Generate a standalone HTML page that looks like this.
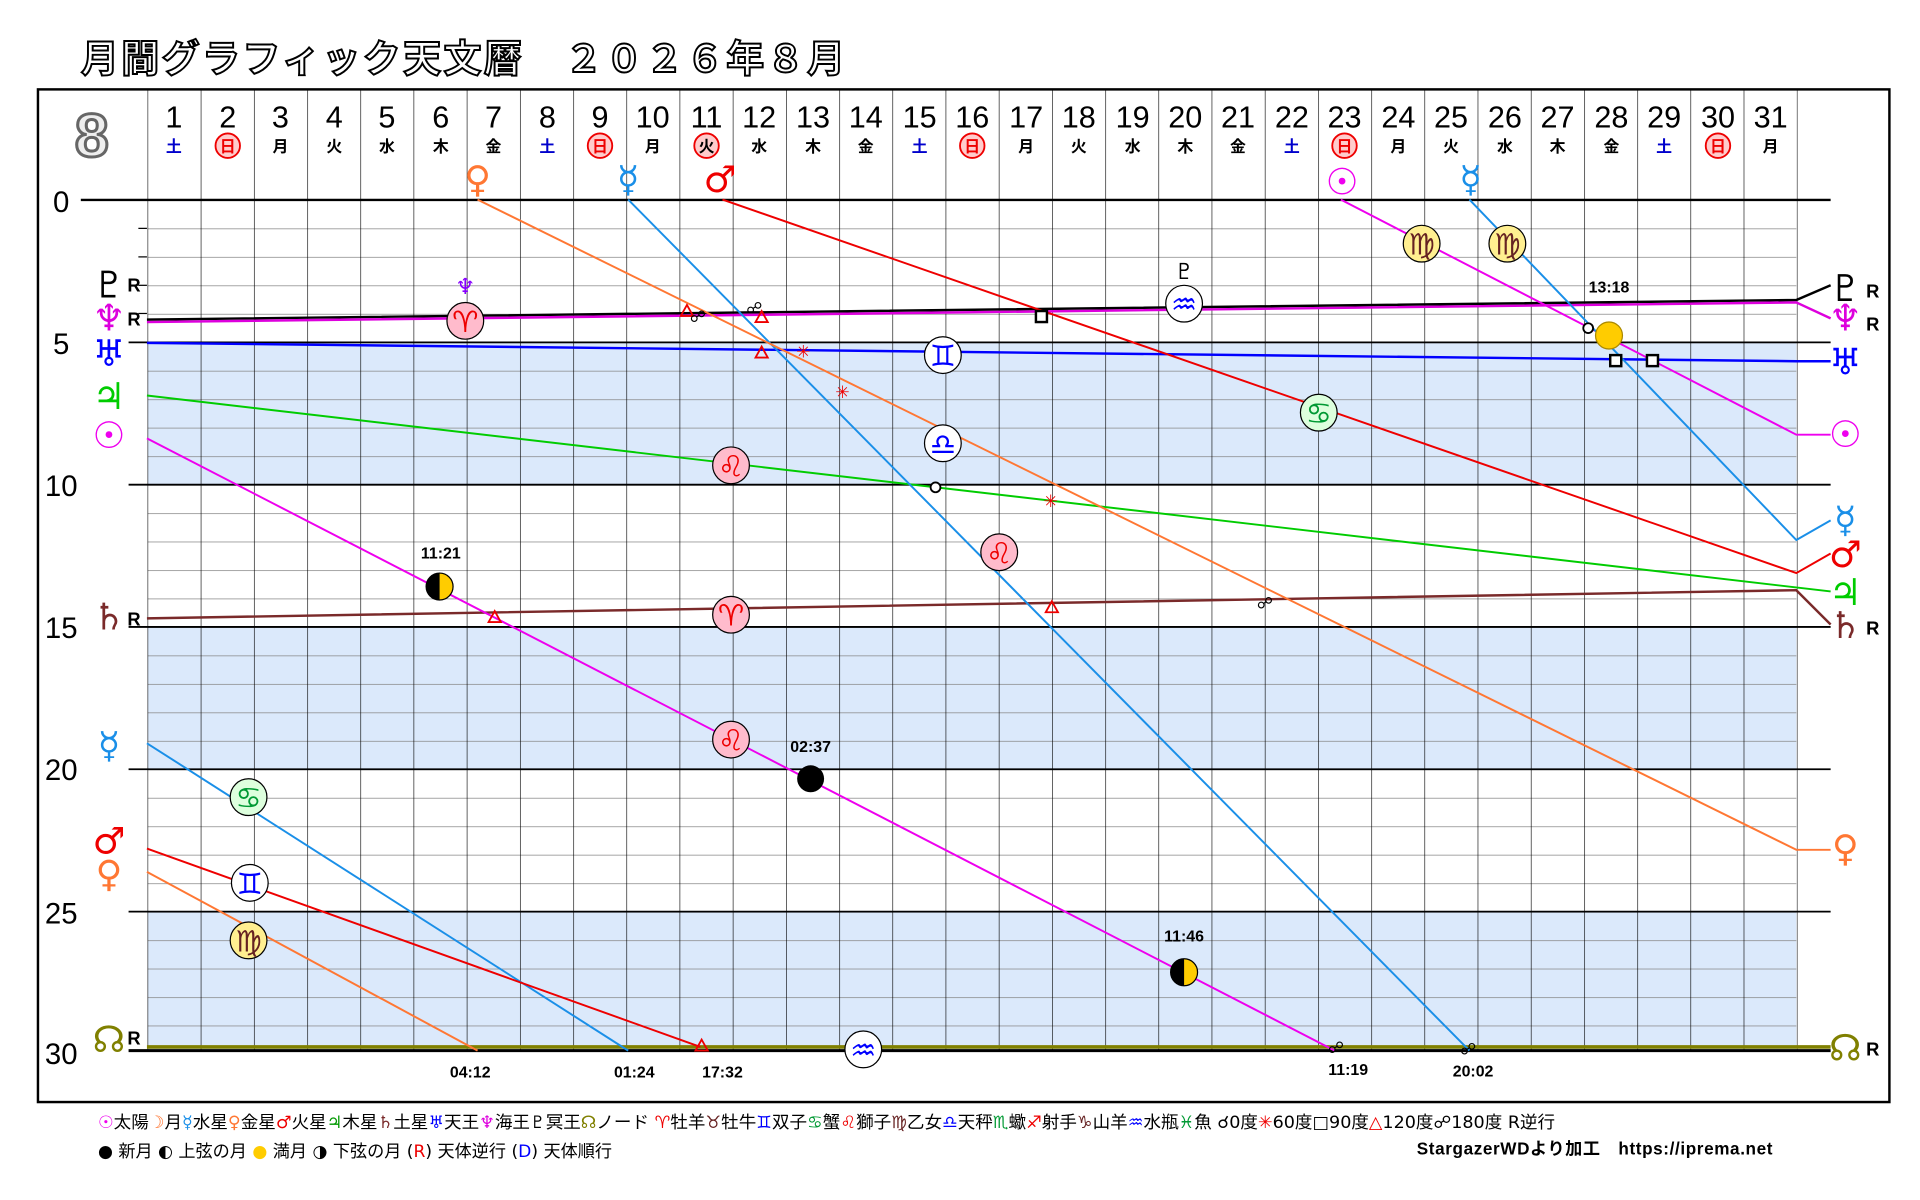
<!DOCTYPE html>
<html><head><meta charset="utf-8"><style>
html,body{margin:0;padding:0;background:#fff;}
svg{display:block;font-family:"Liberation Sans","Noto Sans CJK JP",sans-serif;}
</style></head><body>
<svg width="1920" height="1200" viewBox="0 0 1920 1200" xmlns="http://www.w3.org/2000/svg">
<defs>
<pattern id="vl" x="120.5" y="0" width="43.45" height="1000" patternUnits="userSpaceOnUse"><line x1="0" y1="0" x2="0" y2="1000" stroke="#000" stroke-width="1"/></pattern>
<pattern id="hl" x="0" y="163.3" width="2000" height="23.25" patternUnits="userSpaceOnUse"><line x1="0" y1="0" x2="2000" y2="0" stroke="#888" stroke-width="1.2"/></pattern>
</defs>
<g transform="scale(1.2245)">
<text x="66" y="59" font-size="31" font-weight="bold" fill="#fff" stroke="#000" stroke-width="1.6" letter-spacing="2">月間グラフィック天文暦　２０２６年８月</text>
<rect x="31" y="73" width="1512" height="827" fill="#fff" stroke="#000" stroke-width="2"/>
<rect x="120.5" y="279.6" width="1346.5" height="116.2" fill="#dbe9fb"/>
<rect x="120.5" y="512" width="1346.5" height="116.2" fill="#dbe9fb"/>
<rect x="120.5" y="744.5" width="1346.5" height="113.5" fill="#dbe9fb"/>
<rect x="120.5" y="186" width="1346.5" height="672" fill="url(#hl)"/>
<rect x="120.5" y="73" width="1347.5" height="785" fill="url(#vl)"/>
<g stroke="#000" stroke-width="1.5">
<line x1="66" y1="163.3" x2="1495" y2="163.3" stroke-width="2"/>
<line x1="105" y1="279.6" x2="1495" y2="279.6"/>
<line x1="105" y1="395.8" x2="1495" y2="395.8"/>
<line x1="105" y1="512" x2="1495" y2="512"/>
<line x1="105" y1="628.2" x2="1495" y2="628.2"/>
<line x1="105" y1="744.5" x2="1495" y2="744.5"/>
<line x1="105" y1="858" x2="1495" y2="858" stroke-width="2.5"/>
</g>
<g stroke="#000" stroke-width="1"><line x1="113" y1="186.5" x2="120" y2="186.5"/><line x1="113" y1="209.8" x2="120" y2="209.8"/><line x1="113" y1="233" x2="120" y2="233"/><line x1="113" y1="256" x2="120" y2="256"/></g>
<text x="75" y="128" font-size="50" text-anchor="middle" fill="#eee" stroke="#666" stroke-width="2.5" font-weight="bold">8</text>
<g font-size="24" text-anchor="middle" fill="#000">
<text x="50" y="173">0</text><text x="50" y="289">5</text><text x="50" y="405">10</text><text x="50" y="521">15</text><text x="50" y="637">20</text><text x="50" y="754">25</text><text x="50" y="869">30</text>
</g>
<g font-size="25" text-anchor="middle" fill="#000">
<text x="142" y="104">1</text><text x="186" y="104">2</text><text x="229" y="104">3</text><text x="273" y="104">4</text><text x="316" y="104">5</text><text x="360" y="104">6</text><text x="403" y="104">7</text><text x="447" y="104">8</text><text x="490" y="104">9</text><text x="533" y="104">10</text><text x="577" y="104">11</text><text x="620" y="104">12</text><text x="664" y="104">13</text><text x="707" y="104">14</text><text x="751" y="104">15</text><text x="794" y="104">16</text><text x="838" y="104">17</text><text x="881" y="104">18</text><text x="925" y="104">19</text><text x="968" y="104">20</text><text x="1011" y="104">21</text><text x="1055" y="104">22</text><text x="1098" y="104">23</text><text x="1142" y="104">24</text><text x="1185" y="104">25</text><text x="1229" y="104">26</text><text x="1272" y="104">27</text><text x="1316" y="104">28</text><text x="1359" y="104">29</text><text x="1403" y="104">30</text><text x="1446" y="104">31</text>
</g>
<g fill="#fcc" stroke="#e00" stroke-width="1.5"><circle cx="186" cy="119" r="10"/><circle cx="490" cy="119" r="10"/><circle cx="577" cy="119" r="10"/><circle cx="794" cy="119" r="10"/><circle cx="1098" cy="119" r="10"/><circle cx="1403" cy="119" r="10"/></g>
<g font-size="13" text-anchor="middle" font-weight="bold">
<text x="142" y="124" fill="#00c">土</text><text x="186" y="124" fill="#e00">日</text><text x="229" y="124">月</text><text x="273" y="124">火</text><text x="316" y="124">水</text><text x="360" y="124">木</text><text x="403" y="124">金</text><text x="447" y="124" fill="#00c">土</text><text x="490" y="124" fill="#e00">日</text><text x="533" y="124">月</text><text x="577" y="124">火</text><text x="620" y="124">水</text><text x="664" y="124">木</text><text x="707" y="124">金</text><text x="751" y="124" fill="#00c">土</text><text x="794" y="124" fill="#e00">日</text><text x="838" y="124">月</text><text x="881" y="124">火</text><text x="925" y="124">水</text><text x="968" y="124">木</text><text x="1011" y="124">金</text><text x="1055" y="124" fill="#00c">土</text><text x="1098" y="124" fill="#e00">日</text><text x="1142" y="124">月</text><text x="1185" y="124">火</text><text x="1229" y="124">水</text><text x="1272" y="124">木</text><text x="1316" y="124">金</text><text x="1359" y="124" fill="#00c">土</text><text x="1403" y="124" fill="#e00">日</text><text x="1446" y="124">月</text>
</g>
<g fill="none" stroke-width="1.6">
<polyline points="120,261 1467,245 1495,233" stroke="#000" stroke-width="2"/>
<polyline points="120,263 1467,247 1495,260" stroke="#d0d" stroke-width="2"/>
<polyline points="120,280 1467,295 1495,295" stroke="#00f" stroke-width="2"/>
<polyline points="120,323 1495,483" stroke="#0c0"/>
<polyline points="120,505 1467,482 1495,510" stroke="#7a2a2a" stroke-width="2"/>
<polyline points="120,855 1495,855" stroke="#808000" stroke-width="3"/>
<polyline points="1095,163 1467,355 1495,355" stroke="#e0e"/>
<polyline points="120,358 1090,858" stroke="#e0e"/>
<polyline points="513,163 1200,858" stroke="#1a8fe8"/>
<polyline points="1200,163 1467,441 1495,425" stroke="#1a8fe8"/>
<polyline points="120,607 513,858" stroke="#1a8fe8"/>
<polyline points="590,163 1467,468 1495,452" stroke="#e00"/>
<polyline points="120,693 572,855" stroke="#e00"/>
<polyline points="390,163 1467,694 1495,694" stroke="#f73"/>
<polyline points="120,712 390,858" stroke="#f73"/>
</g>
<g fill="none" stroke="#e00" stroke-width="1.5">
<path d="M561,249 l-5,9 h10z"/><path d="M622,254 l-5,9 h10z"/><path d="M622,283 l-5,9 h10z"/><path d="M404,499 l-5,9 h10z"/><path d="M859,491 l-5,9 h10z"/><path d="M573,849 l-5,9 h10z"/>
</g>
<g font-size="14" fill="#e00" font-weight="bold" text-anchor="middle" font-family="DejaVu Sans,sans-serif"><text x="656" y="292">✳</text><text x="688" y="325">✳</text><text x="858" y="414">✳</text></g>
<g fill="#fff" stroke="#000" stroke-width="2"><rect x="846" y="254" width="9" height="9"/><rect x="1315" y="290" width="9" height="9"/><rect x="1345" y="290" width="9" height="9"/></g>
<g fill="#fff" stroke="#000" stroke-width="1.5"><circle cx="764" cy="398" r="4"/><circle cx="1297" cy="268" r="4"/></g>
<g font-size="13" text-anchor="middle" font-family="DejaVu Sans,sans-serif"><text x="570" y="263">☍</text><text x="616" y="256">☍</text><text x="1033" y="497">☍</text><text x="1091" y="860">☍</text><text x="1199" y="861">☍</text></g>
<g stroke="#000" stroke-width="1">
<circle cx="380" cy="262" r="15" fill="#fbc"/><circle cx="597" cy="380" r="15" fill="#fbc"/><circle cx="597" cy="502" r="15" fill="#fbc"/><circle cx="597" cy="604" r="15" fill="#fbc"/><circle cx="816" cy="451" r="15" fill="#fbc"/>
<circle cx="1077" cy="337" r="15" fill="#dfd"/><circle cx="203" cy="651" r="15" fill="#dfd"/>
<circle cx="770" cy="290" r="15" fill="#fff"/><circle cx="204" cy="721" r="15" fill="#fff"/><circle cx="770" cy="362" r="15" fill="#fff"/><circle cx="967" cy="248" r="15" fill="#fff"/><circle cx="705" cy="857" r="15" fill="#fff"/>
<circle cx="1161" cy="199" r="15" fill="#ffef90"/><circle cx="1231" cy="199" r="15" fill="#ffef90"/><circle cx="203" cy="768" r="15" fill="#ffef90"/>
</g>
<g font-size="24" text-anchor="middle" font-family="DejaVu Sans,sans-serif">
<text x="380" y="271" fill="#e00">♈</text><text x="597" y="389" fill="#e00">♌</text><text x="597" y="511" fill="#e00">♈</text><text x="597" y="613" fill="#e00">♌</text><text x="816" y="460" fill="#e00">♌</text>
<text x="1077" y="346" fill="#093">♋</text><text x="203" y="660" fill="#093">♋</text>
<text x="770" y="299" fill="#00f">♊</text><text x="204" y="730" fill="#00f">♊</text><text x="770" y="371" fill="#00f">♎</text><text x="967" y="257" fill="#00f">♒</text><text x="705" y="866" fill="#00f">♒</text>
<text x="1161" y="208" fill="#622">♍</text><text x="1231" y="208" fill="#622">♍</text><text x="203" y="777" fill="#622">♍</text>
</g>
<text x="380" y="240" font-size="18" fill="#80f" text-anchor="middle" font-family="DejaVu Sans,sans-serif">♆</text>
<text x="967" y="228" font-size="18" text-anchor="middle" font-family="DejaVu Sans,sans-serif">♇</text>
<circle cx="359" cy="479" r="11" fill="#fc0" stroke="#000"/><path d="M359,468 a11,11 0 0 0 0,22z" fill="#000"/>
<circle cx="662" cy="636" r="11" fill="#000"/>
<circle cx="967" cy="794" r="11" fill="#fc0" stroke="#000"/><path d="M967,783 a11,11 0 0 0 0,22z" fill="#000"/>
<circle cx="1314" cy="274" r="11" fill="#fc0" stroke="#a80"/>
<g font-size="13" font-weight="bold" text-anchor="middle">
<text x="360" y="456">11:21</text><text x="662" y="614">02:37</text><text x="967" y="769">11:46</text><text x="1314" y="239">13:18</text>
<text x="384" y="880">04:12</text><text x="518" y="880">01:24</text><text x="590" y="880">17:32</text><text x="1101" y="878">11:19</text><text x="1203" y="879">20:02</text>
</g>
<g font-size="30" text-anchor="middle" font-family="DejaVu Sans,sans-serif" font-weight="bold">
<text x="390" y="157" fill="#f73">♀</text><text x="513" y="157" fill="#1a8fe8">☿</text><text x="588" y="157" fill="#e00">♂</text><text x="1096" y="159" fill="#e0e">☉</text><text x="1201" y="157" fill="#1a8fe8">☿</text>
<text x="89" y="243" fill="#000">♇</text><text x="89" y="270" fill="#d0d">♆</text><text x="89" y="299" fill="#00f">♅</text><text x="89" y="334" fill="#0c0">♃</text><text x="89" y="366" fill="#e0e">☉</text><text x="89" y="514" fill="#7a2a2a">♄</text><text x="89" y="619" fill="#1a8fe8">☿</text><text x="89" y="697" fill="#e00">♂</text><text x="89" y="724" fill="#f73">♀</text><text x="89" y="859" fill="#808000">☊</text>
<text x="1507" y="246" fill="#000">♇</text><text x="1507" y="270" fill="#d0d">♆</text><text x="1507" y="306" fill="#00f">♅</text><text x="1507" y="365" fill="#e0e">☉</text><text x="1507" y="435" fill="#1a8fe8">☿</text><text x="1507" y="463" fill="#e00">♂</text><text x="1507" y="494" fill="#0c0">♃</text><text x="1507" y="521" fill="#7a2a2a">♄</text><text x="1507" y="703" fill="#f73">♀</text><text x="1507" y="866" fill="#808000">☊</text>
</g>
<g font-size="15" font-weight="bold"><text x="104" y="238">R</text><text x="104" y="266">R</text><text x="104" y="511">R</text><text x="104" y="853">R</text><text x="1524" y="243">R</text><text x="1524" y="270">R</text><text x="1524" y="518">R</text><text x="1524" y="862">R</text></g>
<g font-family="Liberation Sans,DejaVu Sans,Noto Sans CJK JP,sans-serif">
<text x="80" y="921" font-size="14" fill="#000" font-family="DejaVu Sans,Noto Sans CJK JP,sans-serif" textLength="1190" lengthAdjust="spacingAndGlyphs"><tspan fill="#e0e">☉</tspan>太陽<tspan fill="#f73">☽</tspan>月<tspan fill="#1a8fe8">☿</tspan>水星<tspan fill="#f73">♀</tspan>金星<tspan fill="#e00">♂</tspan>火星<tspan fill="#090">♃</tspan>木星<tspan fill="#7a2a2a">♄</tspan>土星<tspan fill="#00f">♅</tspan>天王<tspan fill="#d0d">♆</tspan>海王<tspan>♇</tspan>冥王<tspan fill="#808000">☊</tspan>ノード  <tspan fill="#e00">♈</tspan>牡羊<tspan fill="#622">♉</tspan>牡牛<tspan fill="#00f">♊</tspan>双子<tspan fill="#093">♋</tspan>蟹<tspan fill="#e00">♌</tspan>獅子<tspan fill="#622">♍</tspan>乙女<tspan fill="#00f">♎</tspan>天秤<tspan fill="#093">♏</tspan>蠍<tspan fill="#e00">♐</tspan>射手<tspan fill="#622">♑</tspan>山羊<tspan fill="#00f">♒</tspan>水瓶<tspan fill="#093">♓</tspan>魚  ☌0度<tspan fill="#e00">✳</tspan>60度□90度<tspan fill="#e00">△</tspan>120度☍180度 R逆行</text>
<text x="80" y="945" font-size="14" fill="#000" font-family="DejaVu Sans,Noto Sans CJK JP,sans-serif">● 新月 ◐ 上弦の月 <tspan fill="#fc0">●</tspan> 満月 ◑ 下弦の月  (<tspan fill="#e00">R</tspan>) 天体逆行  (<tspan fill="#00f">D</tspan>) 天体順行</text>
</g>
<text x="1157" y="943" font-size="14" font-weight="bold" letter-spacing="0.5">StargazerWDより加工　https://iprema.net</text>
</g>
</svg>
</body></html>
